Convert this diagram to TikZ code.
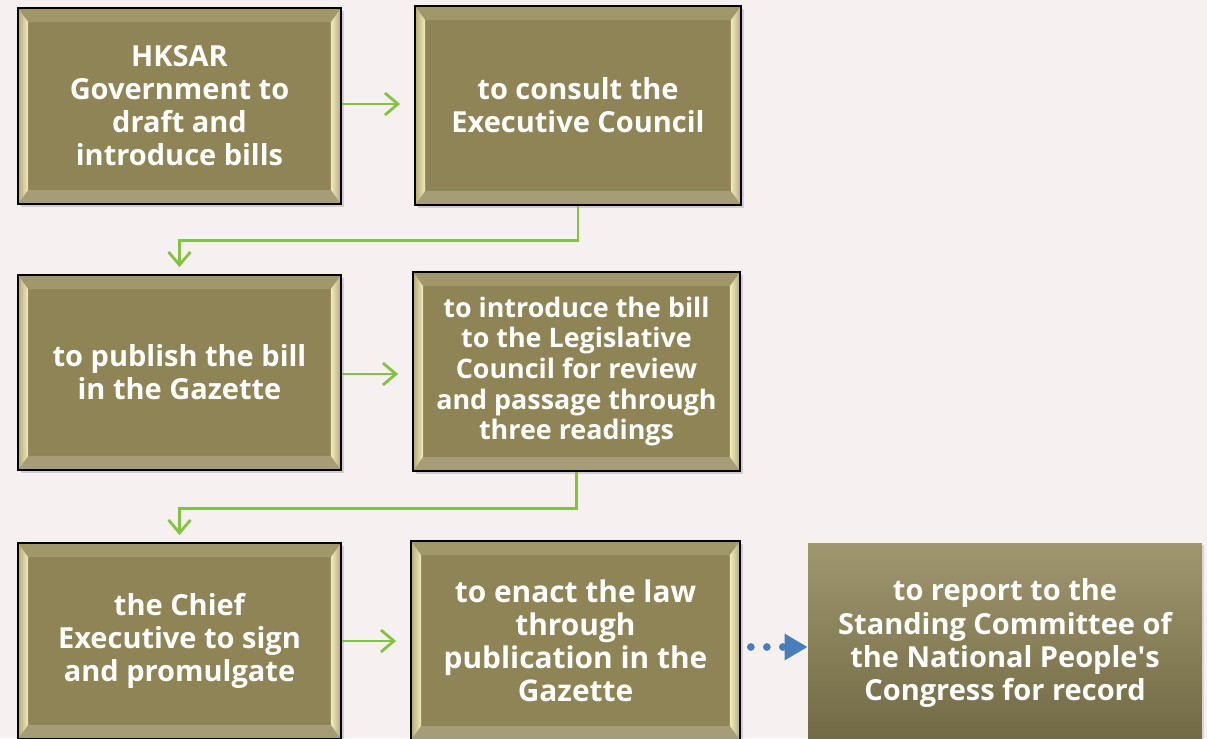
\documentclass[tikz,border=0pt]{standalone}
\usepackage{fontspec}
\setmainfont{Open Sans}
\usetikzlibrary{arrows.meta, shadows}
\definecolor{bgpaper}{HTML}{F7F0F0}
\definecolor{olivebox}{HTML}{8E8455}
\definecolor{bevlight}{HTML}{F1EBBD}
\definecolor{bevdark}{HTML}{B3A977}
\definecolor{bevtop}{HTML}{A0976A}
\definecolor{bevbot}{HTML}{A49D78}
\definecolor{flowgreen}{HTML}{84C341}
\definecolor{dotblue}{HTML}{4A7EBB}
\tikzset{
  steptext/.style={text=white, align=center, font=\fontsize{16.5}{18.8}\selectfont\bfseries},
  bevelbox/.style={steptext, draw=black, line width=1pt, fill=olivebox,
    minimum width=6.46cm, minimum height=3.92cm, inner sep=0pt,
    drop shadow={shadow xshift=0.06cm, shadow yshift=-0.06cm, opacity=0.3},
    path picture={
      \coordinate (nw) at (path picture bounding box.north west);
      \coordinate (ne) at (path picture bounding box.north east);
      \coordinate (sw) at (path picture bounding box.south west);
      \coordinate (se) at (path picture bounding box.south east);
      \fill[bevtop] (nw) -- (ne) -- ([shift={(-0.2cm,-0.28cm)}]ne) -- ([shift={(0.2cm,-0.28cm)}]nw) -- cycle;
      \fill[bevbot] (sw) -- (se) -- ([shift={(-0.2cm,0.28cm)}]se) -- ([shift={(0.2cm,0.28cm)}]sw) -- cycle;
      \shade[left color=bevdark, right color=bevlight] (nw) -- ([shift={(0.2cm,-0.28cm)}]nw) -- ([shift={(0.2cm,0.28cm)}]sw) -- (sw) -- cycle;
      \shade[left color=bevlight, right color=bevdark] (ne) -- ([shift={(-0.2cm,-0.28cm)}]ne) -- ([shift={(-0.2cm,0.28cm)}]se) -- (se) -- cycle;
    }},
  plainbox/.style={steptext, top color=olivebox!85!white, bottom color=olivebox!80!black,
    minimum width=7.88cm, minimum height=4cm, inner sep=0pt,
    drop shadow={shadow xshift=0.04cm, shadow yshift=-0.04cm, opacity=0.25}},
  flow/.style={flowgreen, line width=1.6pt, -{Straight Barb[length=0.26cm, width=0.44cm]}},
}
\begin{document}
\begin{tikzpicture}[x=0.02cm, y=-0.02cm]
    \fill[bgpaper] (0,0) rectangle (1207,738);
    \useasboundingbox (0,0) rectangle (1207,738);
    \clip (0,0) rectangle (1207,738);
    \node[bevelbox] (draft) at (179.5,106) {HKSAR\\Government to\\draft and\\introduce bills};
    \node[bevelbox, minimum width=6.52cm, minimum height=3.98cm] (consult) at (578,105.5) {to consult the\\Executive Council};
    \node[bevelbox, minimum height=3.9cm] (publish) at (179.5,372.5) {to publish the bill\\in the Gazette};
    \node[bevelbox, minimum width=6.54cm, minimum height=3.98cm, font=\fontsize{15.3}{17.5}\selectfont\bfseries] (legco) at (576.5,371.5) {to introduce the bill\\to the Legislative\\Council for review\\and passage through\\three readings};
    \node[bevelbox] (sign) at (179.5,641) {the Chief\\Executive to sign\\and promulgate};
    \node[bevelbox, minimum width=6.58cm, minimum height=3.98cm, font=\fontsize{17}{18.8}\selectfont\bfseries] (enact) at (575.5,640.5) {to enact the law\\through\\publication in the\\Gazette};
    \node[plainbox] (report) at (1005,643) {to report to the\\Standing Committee of\\the National People\textquotesingle s\\Congress for record};
    \draw[flow, shorten >=5\pgflinewidth] (draft.east |- 0,104) -- (consult.west |- 0,104);
    \draw[flow, shorten >=4pt] (consult.south) -- ++(0,35) -| (publish.north);
    \draw[flow, shorten >=5\pgflinewidth] (publish.east |- 0,374) -- (legco.west |- 0,374);
    \draw[flow, shorten >=4pt] (legco.south) -- ++(0,37) -| (sign.north);
    \draw[flow, shorten >=5\pgflinewidth] (sign.east) -- (enact.west |- sign.east);
    \draw[dotblue, line width=4.4pt, line cap=round, dash pattern=on 0pt off 0.32cm, -{Triangle[length=0.46cm, width=0.5cm, line cap=butt]}, shorten <=0.2cm] (enact.east |- 0,647) -- (report.west |- 0,647);
\end{tikzpicture}
\end{document}
